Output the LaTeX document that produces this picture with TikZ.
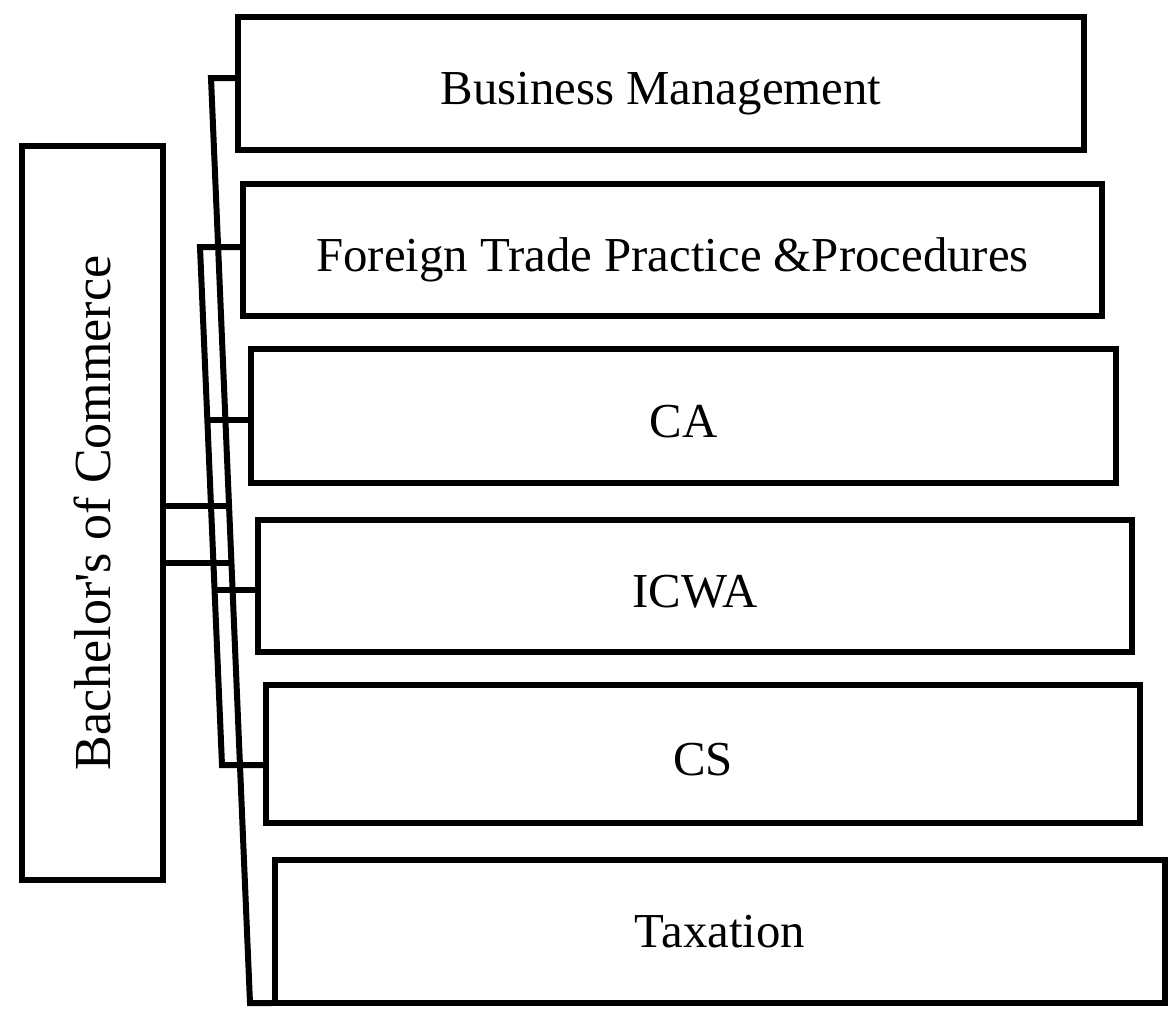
\documentclass[tikz,border=0pt]{standalone}
\usepackage{fontspec}
\setmainfont{Liberation Serif}
\usetikzlibrary{
    positioning,
    calc
}

\begin{document}
\begin{tikzpicture}[
    x=1pt, y=-1pt,
    font=\fontsize{48.8}{58}\selectfont,
    sbox/.style={
        draw, line width=6pt, inner sep=0pt,
        align=center
    },
    obox/.style={
        sbox, text height=44pt, text depth=2pt
    },
    conn/.style={line width=6pt},
]

\useasboundingbox (0,0) rectangle (1176,1009);

% ── Nodes (top to bottom) ──

% Degree
\node[sbox, minimum width=141pt, minimum height=734pt,
      font=\fontsize{52}{62}\selectfont] (bcom) at (92,513)
      {\rotatebox{90}{Bachelor\textquotesingle s of Commerce}};

% Options
\node[obox, minimum width=846pt, minimum height=133pt] (bbm) at (661,83.5) {Business Management};
\node[obox, minimum width=859pt, minimum height=132pt] (bftp) at (672.5,250) {Foreign Trade Practice \&Procedures};
\node[obox, minimum width=865pt, minimum height=134pt] (bca) at (683.5,416) {CA};
\node[obox, minimum width=874pt, minimum height=132pt] (bicwa) at (695,586) {ICWA};
\node[obox, minimum width=874pt, minimum height=138pt] (bcs) at (703,754) {CS};
\node[sbox, minimum width=890pt, minimum height=143pt] (btax) at (720,931.5) {Taxation};

% ── Bus lines ──
\coordinate (atop) at (211,78);
\coordinate (abot) at (250,1003);
\coordinate (btop) at (200,247);
\coordinate (bbot) at (222,765);

% Outer bus: Business Management -> Taxation
\draw[conn] (atop -| bbm.west) -- (atop) -- (abot) -- (abot -| btax.west);

% Inner bus: Foreign Trade -> CS
\draw[conn] (btop -| bftp.west) -- (btop) -- (bbot) -- (bbot -| bcs.west);

% Branches off the inner bus
\coordinate (pca) at ($(btop)!0.334!(bbot)$);
\coordinate (picwa) at ($(btop)!0.662!(bbot)$);
\draw[conn] (pca) -- (pca -| bca.west);
\draw[conn] (picwa) -- (picwa -| bicwa.west);

% Degree box to outer bus
\coordinate (pcom1) at ($(atop)!0.463!(abot)$);
\coordinate (pcom2) at ($(atop)!0.524!(abot)$);
\draw[conn] (pcom1 -| bcom.east) -- (pcom1);
\draw[conn] (pcom2 -| bcom.east) -- (pcom2);

\end{tikzpicture}
\end{document}
